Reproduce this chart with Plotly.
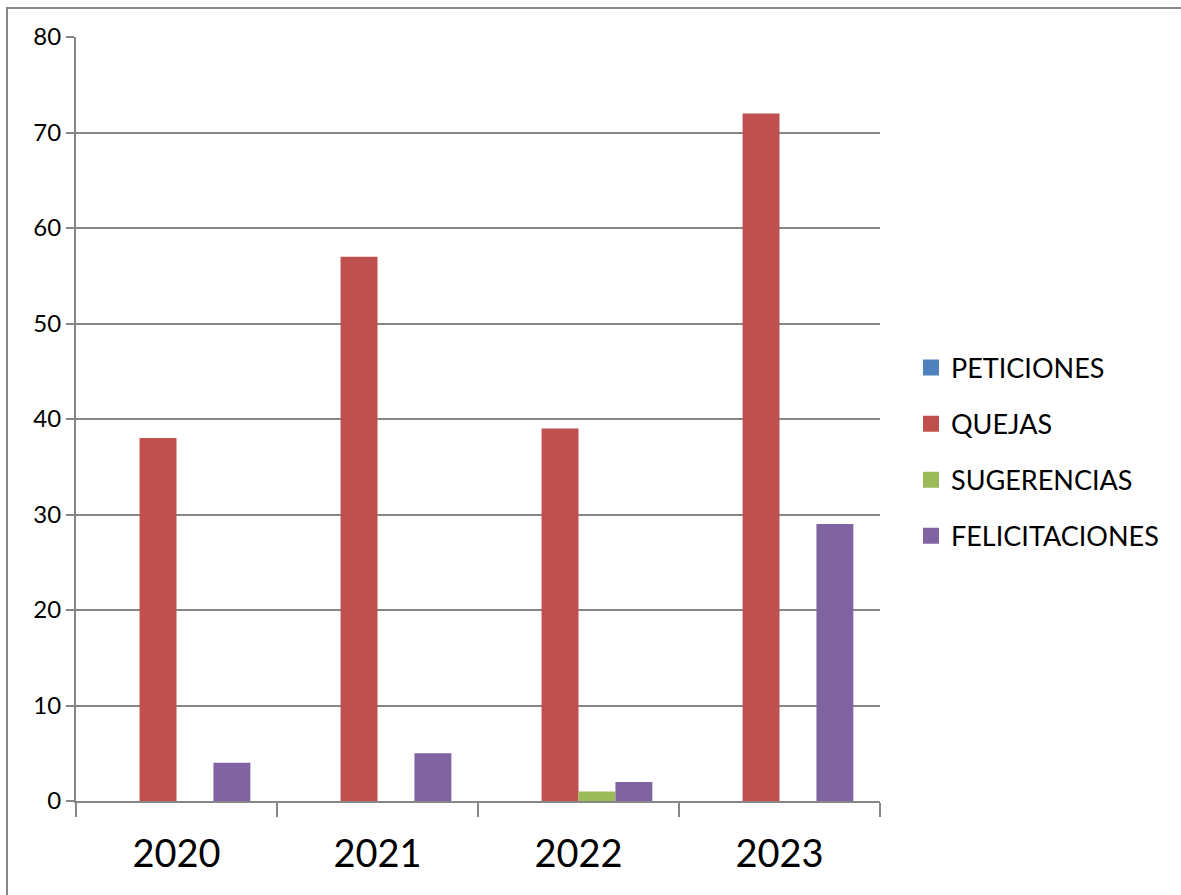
import plotly.graph_objects as go

years = ["2020", "2021", "2022", "2023"]
peticiones = [0, 0, 0, 0]
quejas = [38, 57, 39, 72]
sugerencias = [0, 0, 1, 0]
felicitaciones = [4, 5, 2, 29]

series = [
    ("PETICIONES", peticiones, "#4F81BD"),
    ("QUEJAS", quejas, "#C0504D"),
    ("SUGERENCIAS", sugerencias, "#9BBB59"),
    ("FELICITACIONES", felicitaciones, "#8064A2"),
]

fig = go.Figure()
for i, (name, vals, col) in enumerate(series):
    fig.add_trace(go.Bar(x=years, y=vals, name=name, marker_color=col,
                         marker_line_width=0, legendgroup=str(i),
                         showlegend=False))
    # legend entry with a larger square swatch
    fig.add_trace(go.Scatter(x=[None], y=[None], mode="markers", name=name,
                             marker=dict(symbol="square", size=18, color=col),
                             legendgroup=str(i), showlegend=True))

grid = "#868686"
W, H = 1181, 895
L, T, R, B = 76, 37, 301, 94
pw = W - L - R
ph = H - T - B
fig.update_layout(
    width=W, height=H,
    margin=dict(l=L, r=R, t=T, b=B),
    paper_bgcolor="white", plot_bgcolor="white",
    barmode="group", bargap=0.265, bargroupgap=0,
    font=dict(family="Lato, Open Sans, sans-serif", color="black"),
    legend=dict(x=(911 - L) / pw, y=(ph + T - 452) / ph, xanchor="left", yanchor="middle",
                font=dict(size=27), traceorder="grouped", tracegroupgap=18,
                itemwidth=30),
    xaxis=dict(showline=True, linecolor=grid, linewidth=2,
               ticks="outside", tickson="boundaries", ticklen=14,
               tickcolor=grid, tickwidth=2, tickfont=dict(size=38),
               ticklabelstandoff=18, showgrid=False),
    yaxis=dict(range=[0, 80], dtick=10, showline=True, linecolor=grid,
               linewidth=2, ticks="outside", ticklen=8, tickcolor=grid,
               tickwidth=2, showgrid=True, gridcolor=grid, gridwidth=1.5,
               zeroline=False, tickfont=dict(size=24)),
    shapes=[dict(type="rect", xref="paper", yref="paper",
                 x0=(7 - L) / pw, x1=(W + 20 - L) / pw,
                 y0=-(B + 20) / ph, y1=(ph + T - 8) / ph,
                 line=dict(color=grid, width=2), layer="below")],
)
fig.write_html("out.html", config={"displayModeBar": False},
               post_script="document.body.style.margin='0px';")
